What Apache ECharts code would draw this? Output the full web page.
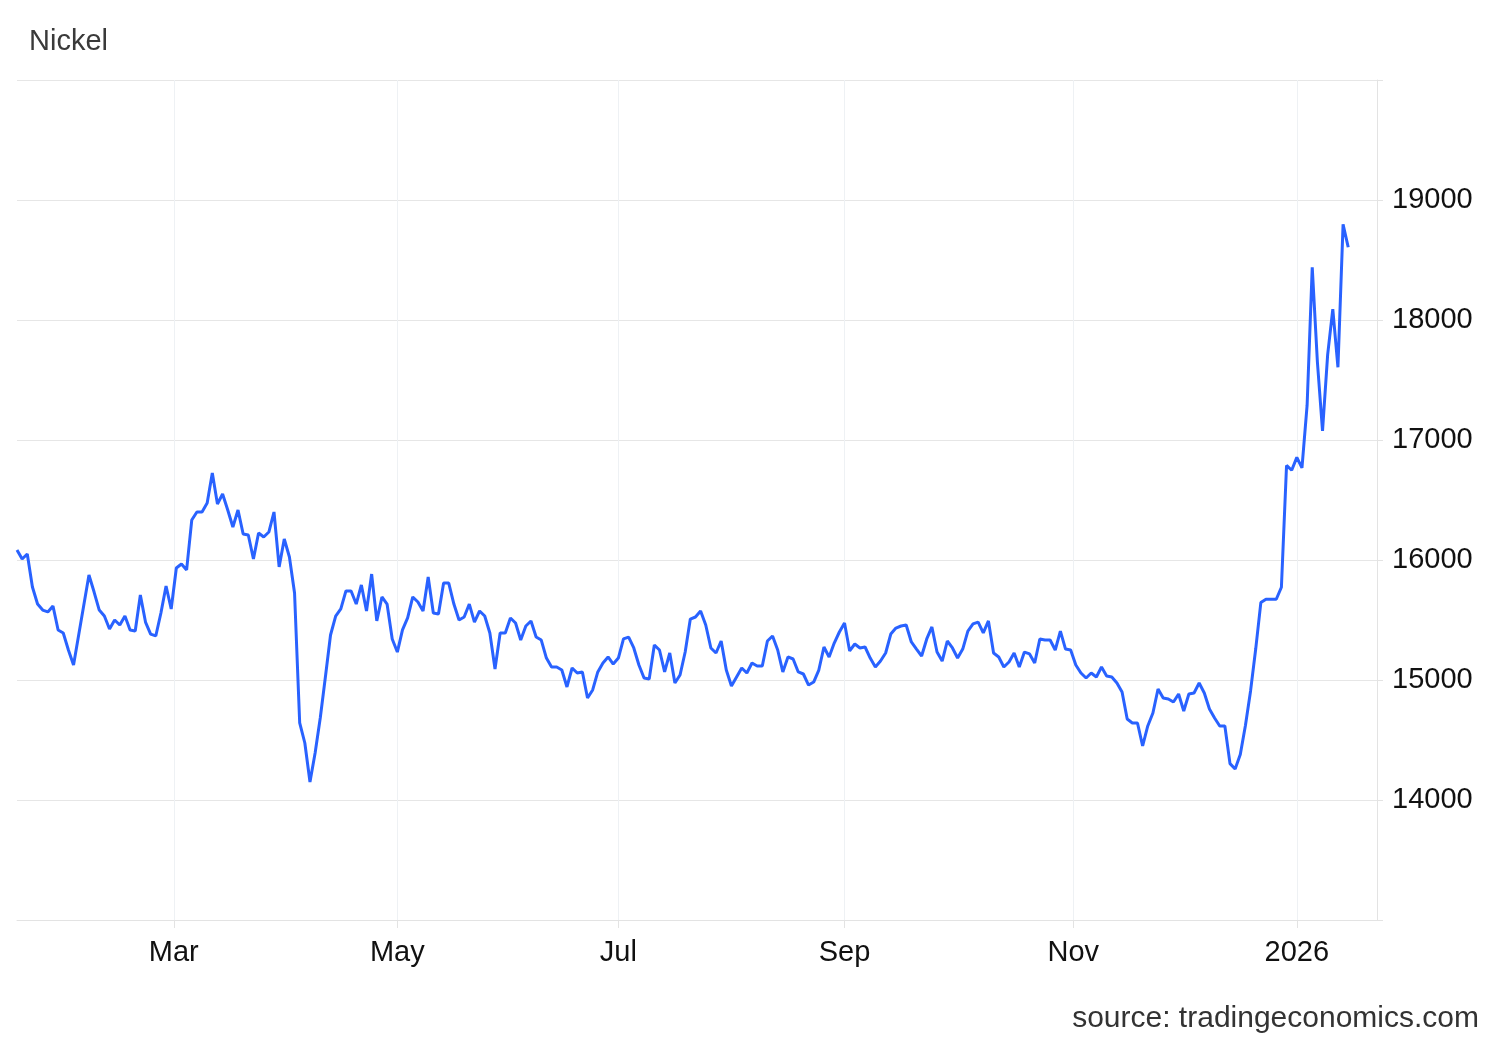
<!DOCTYPE html>
<html>
<head>
<meta charset="utf-8">
<title>Nickel</title>
<script src="https://cdn.jsdelivr.net/npm/echarts@6/dist/echarts.min.js"></script>
<style>
  html, body { margin: 0; padding: 0; background: #fff; }
  #chart { width: 1500px; height: 1040px; }
</style>
</head>
<body>
<div id="chart"></div>
<script>
// daily closes, one per trading day starting Fri 17 Jan 2025
var firstDay = [2025, 0, 17];

var janMar = [16083, 16008, 16050, 15775, 15633, 15583, 15567, 15617, 15417, 15392,
  15250, 15125, 15375, 15625, 15875, 15733, 15583, 15533, 15425, 15500, 15458, 15533,
  15417, 15408, 15708, 15483, 15383, 15367, 15558, 15783, 15592, 15933, 15967, 15917,
  16333, 16400, 16400, 16475, 16725, 16467, 16550, 16417, 16275];

var aprMay = [16417, 16217, 16208, 16008, 16225, 16192, 16233, 16400, 15942, 16175,
  16025, 15725, 14642, 14475, 14150, 14392, 14683, 15025, 15375, 15533, 15592, 15742,
  15742, 15633, 15792, 15575, 15883, 15492, 15692, 15633, 15342, 15233, 15417, 15517,
  15692, 15650, 15575, 15858, 15558, 15550, 15808, 15808, 15633];

var junJul = [15500, 15525, 15633, 15483, 15575, 15533, 15392, 15092, 15392, 15392,
  15517, 15475, 15333, 15450, 15492, 15358, 15333, 15183, 15108, 15108, 15083,
  14942, 15100, 15058, 15067, 14850, 14917, 15067, 15142, 15192, 15133, 15183, 15342,
  15358, 15267, 15125, 15017, 15008, 15292, 15250, 15067, 15225, 14975];

var augSep = [15042, 15233, 15508, 15525, 15575, 15458, 15267, 15225, 15325, 15083,
  14950, 15025, 15100, 15058, 15142, 15117, 15117, 15325, 15367, 15250, 15067,
  15192, 15175, 15067, 15050, 14958, 14983, 15083, 15275, 15192, 15308, 15400, 15475,
  15242, 15300, 15267, 15275, 15183, 15108, 15158, 15225, 15383];

var octNov = [15433, 15450, 15458, 15317, 15258, 15200, 15342, 15442, 15233, 15158,
  15325, 15267, 15183, 15258, 15408, 15467, 15483, 15392, 15492, 15225, 15192, 15108,
  15150, 15225, 15108, 15233, 15217, 15142, 15342, 15333, 15333, 15250, 15408, 15258,
  15250, 15125, 15058, 15017, 15058, 15025, 15108, 15033, 15025];

var decJan = [14975, 14900, 14675, 14642, 14642, 14450, 14617, 14725, 14925, 14850,
  14842, 14817, 14883, 14742, 14883, 14892, 14975, 14892, 14758, 14683, 14617, 14617,
  14303, 14258, 14379, 14621, 14909, 15258, 15645, 15673, 15673, 15673, 15773, 16788,
  16748, 16855, 16767, 17288, 18439, 17652, 17076, 17712, 18091, 17606, 18797, 18606];

var priceTicks = [14000, 15000, 16000, 17000, 18000, 19000];
var monthLabels = ['Mar', 'May', 'Jul', 'Sep', 'Nov', '2026'];
var monthStarts = [[2025, 2, 1], [2025, 4, 1], [2025, 6, 1], [2025, 8, 1], [2025, 10, 1], [2026, 0, 1]];

var prices = janMar.concat(aprMay, junJul, augSep, octNov, decJan);

// weekday calendar for the closes; the axis runs on trading-day index
var days = [];
var d = new Date(firstDay[0], firstDay[1], firstDay[2]);
while (days.length < prices.length) {
  if (d.getDay() !== 0 && d.getDay() !== 6) days.push(d.getTime());
  d = new Date(d.getFullYear(), d.getMonth(), d.getDate() + 1);
}
var seriesData = prices.map(function (p, i) { return [i, p]; });

// month start -> position on the trading-day axis (weekend starts fall between Fri and Mon)
var monthPos = {};
var monthTickValues = monthStarts.map(function (m, k) {
  var t = new Date(m[0], m[1], m[2]);
  var i = 0;
  while (i < days.length && days[i] < t.getTime()) i++;
  var wd = t.getDay();
  var pos = (wd === 0 || wd === 6) ? i - 0.5 : i;
  monthPos[pos] = monthLabels[k];
  return pos;
});

var chart = echarts.init(document.getElementById('chart'));
var font = '"Liberation Sans", Arial, Helvetica, sans-serif';

chart.setOption({
  animation: false,
  backgroundColor: '#fff',
  textStyle: { fontFamily: font },
  title: {
    text: 'Nickel',
    left: 24,
    top: 22,
    textStyle: { fontFamily: font, fontSize: 29, fontWeight: 'normal', color: '#3a3a3a' }
  },
  graphic: [{
    type: 'text',
    right: 21,
    top: 1004,
    style: { text: 'source: tradingeconomics.com', font: '30px ' + font, fill: '#333' }
  }],
  grid: { left: 17, right: 123, top: 80, bottom: 120 },
  xAxis: {
    type: 'value',
    min: 0,
    max: 264.6,
    axisLine: { show: true, onZero: false, lineStyle: { color: '#e3e3e3', width: 1 } },
    axisTick: { show: true, length: 8, customValues: monthTickValues, lineStyle: { color: '#e3e3e3' } },
    splitLine: { show: true, lineStyle: { color: '#eef1f4', width: 1 } },
    axisLabel: {
      color: '#111',
      fontSize: 29,
      margin: 18,
      fontFamily: font,
      customValues: monthTickValues,
      formatter: function (val) { return monthPos[val] || ''; }
    }
  },
  yAxis: {
    type: 'value',
    position: 'right',
    min: 13000,
    max: 20000,
    interval: 1000,
    axisLine: { show: true, onZero: false, lineStyle: { color: '#e3e3e3' } },
    axisTick: { show: true, length: 6, lineStyle: { color: '#e3e3e3' } },
    splitLine: { show: true, lineStyle: { color: '#e6e6e6', width: 1 } },
    axisLabel: {
      color: '#111',
      fontSize: 29,
      margin: 15,
      fontFamily: font,
      formatter: function (v) { return priceTicks.indexOf(v) >= 0 ? String(v) : ''; }
    }
  },
  series: [{
    type: 'line',
    data: seriesData,
    showSymbol: false,
    symbol: 'none',
    lineStyle: { color: '#2962ff', width: 3 },
    itemStyle: { color: '#2962ff' }
  }]
});
</script>
</body>
</html>
